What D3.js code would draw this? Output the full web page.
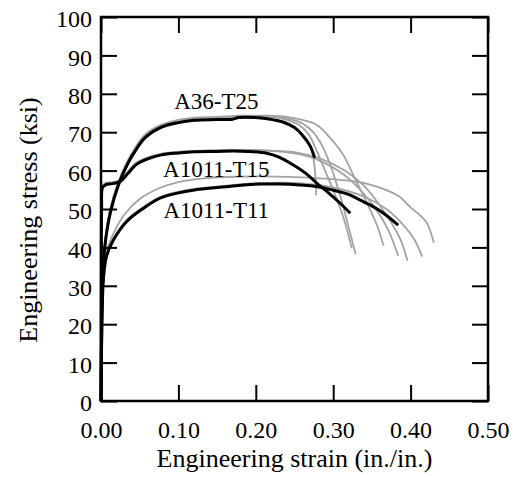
<!DOCTYPE html>
<html>
<head>
<meta charset="utf-8">
<script src="https://cdn.jsdelivr.net/npm/d3@7"></script>
<style>
  html, body { margin: 0; padding: 0; background: #fff; }
  svg { display: block; }
  text { font-family: "Liberation Serif", "Times New Roman", serif; fill: #000; }
</style>
</head>
<body>
<script>
// Tick values
const xTicks = [0, 0.1, 0.2, 0.3, 0.4, 0.5];
const yTicks = [0, 10, 20, 30, 40, 50, 60, 70, 80, 90, 100];

// Curve labels
const labels = [
  { text: "A36-T25", strain: 0.149, stress: 76.0 },
  { text: "A1011-T15", strain: 0.149, stress: 58.3 },
  { text: "A1011-T11", strain: 0.149, stress: 47.7 }
];

// Mean (black) curves: [strain, stress ksi]
const a36Mean = [[0,0],[0.003,35],[0.006,42],[0.012,49],[0.022,56],[0.035,62],[0.047,66],[0.057,68.6],[0.078,71.3],[0.10,72.5],[0.12,73.1],[0.15,73.3],[0.17,73.4],[0.178,73.8],[0.20,73.8],[0.215,73.5],[0.236,72.6],[0.250,71.2],[0.260,69.3],[0.270,66.5],[0.276,63.3]];
const t15Mean = [[0,0],[0.0004,30],[0.0008,50],[0.002,55.6],[0.006,56.3],[0.015,56.6],[0.025,57.2],[0.035,59.3],[0.045,61.5],[0.057,62.8],[0.078,64.1],[0.10,64.6],[0.121,64.9],[0.15,65.0],[0.171,65.1],[0.19,65.0],[0.214,64.5],[0.23,63.5],[0.248,61.5],[0.265,59.2],[0.279,56.7],[0.295,54],[0.309,51.5],[0.322,48.9]];
const t11Mean = [[0,0],[0.001,20],[0.002,27],[0.003,31.5],[0.007,37.6],[0.016,41.9],[0.033,46.7],[0.055,50.2],[0.076,52.8],[0.10,54.2],[0.119,54.9],[0.162,55.8],[0.193,56.4],[0.205,56.5],[0.23,56.5],[0.257,56.25],[0.28,55.8],[0.300,54.9],[0.32,53.8],[0.335,52.3],[0.35,50.8],[0.365,48.9],[0.384,45.8]];

// Individual tests (gray)
const a36Test1 = [[0,0],[0.003,34],[0.006,41.5],[0.012,48.5],[0.022,55.5],[0.035,61.6],[0.057,68.4],[0.078,71.1],[0.10,72.4],[0.12,73.0],[0.15,73.3],[0.18,73.7],[0.21,73.5],[0.235,72.5],[0.252,70.8],[0.264,68.5],[0.272,65.5],[0.276,61],[0.278,53.6]];
const a36Test2 = [[0,0],[0.003,36],[0.006,43],[0.012,50],[0.022,56.8],[0.035,62.6],[0.057,69.2],[0.078,71.8],[0.10,73],[0.12,73.6],[0.15,73.8],[0.18,74.2],[0.21,74.2],[0.235,73.5],[0.255,72],[0.268,69.5],[0.279,65],[0.289,60.2],[0.300,54.9],[0.313,47.9],[0.324,39.8]];
const a36Test3 = [[0,0],[0.003,35],[0.006,42.5],[0.012,49.5],[0.022,56.4],[0.035,62.3],[0.057,69],[0.078,71.6],[0.10,72.8],[0.12,73.4],[0.15,73.7],[0.18,74.0],[0.21,74.1],[0.24,73.6],[0.26,72.3],[0.275,69.8],[0.287,66],[0.298,60.5],[0.309,53.5],[0.319,46],[0.329,38.2]];
const a36Test4 = [[0,0],[0.003,35.5],[0.006,43],[0.012,50],[0.022,56.8],[0.035,62.8],[0.057,69.4],[0.078,72],[0.10,73.2],[0.12,73.8],[0.15,74.0],[0.18,74.3],[0.21,74.3],[0.24,74],[0.26,73.2],[0.279,71.9],[0.296,68.5],[0.313,64.1],[0.33,57.1],[0.345,51],[0.357,45.5],[0.365,40.4]];
const t15Test1 = [[0,0],[0.0004,30],[0.0008,50],[0.002,56],[0.006,56.8],[0.015,57],[0.025,57.6],[0.035,59.8],[0.045,62],[0.057,63.2],[0.078,64.4],[0.10,64.9],[0.13,65.2],[0.17,65.4],[0.21,65.3],[0.25,64.5],[0.28,62.8],[0.31,59.5],[0.335,55],[0.355,50],[0.37,45],[0.384,37.8]];
const t15Test2 = [[0,0],[0.0004,30],[0.0008,50],[0.002,55.8],[0.006,56.5],[0.015,56.8],[0.025,57.4],[0.035,59.6],[0.045,61.8],[0.057,63],[0.078,64.3],[0.10,64.8],[0.13,65.1],[0.17,65.3],[0.21,65.2],[0.25,64.8],[0.285,63],[0.315,60],[0.34,56],[0.36,51],[0.375,46.5],[0.387,42],[0.396,36.5]];
const t11Test1 = [[0,0],[0.001,21],[0.002,28.5],[0.003,33],[0.007,39],[0.016,43.6],[0.03,48.5],[0.05,52.6],[0.075,55.4],[0.10,57.0],[0.13,57.9],[0.17,58.4],[0.21,58.5],[0.25,58.3],[0.29,57.9],[0.322,57.3],[0.345,56.5],[0.364,55.3],[0.385,53.3],[0.399,50.6],[0.412,48.4],[0.421,46.4],[0.430,41.2]];
const t11Test2 = [[0,0],[0.001,20],[0.002,27.5],[0.003,32],[0.007,38],[0.016,42.3],[0.033,47.1],[0.055,50.6],[0.076,53.1],[0.10,54.5],[0.119,55.2],[0.162,56.1],[0.2,56.7],[0.25,56.8],[0.30,55.6],[0.34,53.2],[0.37,49.8],[0.393,45.3],[0.405,42],[0.415,37.6]];

const grayCurves = [a36Test1, a36Test2, a36Test3, a36Test4, t15Test1, t15Test2, t11Test1, t11Test2];
const blackCurves = [a36Mean, t15Mean, t11Mean];

const W = 513, H = 477;
const margin = { left: 101, right: 25, top: 17, bottom: 76 };
const iw = W - margin.left - margin.right;
const ih = H - margin.top - margin.bottom;

const svg = d3.select("body").append("svg").attr("width", W).attr("height", H);
const g = svg.append("g").attr("transform", `translate(${margin.left},${margin.top})`);

const x = d3.scaleLinear().domain([0, 0.5]).range([0, iw]);
const y = d3.scaleLinear().domain([0, 100]).range([ih, 0]);

const line = d3.line()
  .x(d => x(d[0]))
  .y(d => y(d[1]))
  .curve(d3.curveCatmullRom.alpha(0.5));

// Test curves
g.selectAll("path.test").data(grayCurves).join("path")
  .attr("class", "test")
  .attr("d", line)
  .attr("fill", "none")
  .attr("stroke", "#a3a3a3")
  .attr("stroke-width", 1.8);

// Mean curves
g.selectAll("path.mean").data(blackCurves).join("path")
  .attr("class", "mean")
  .attr("d", line)
  .attr("fill", "none")
  .attr("stroke", "#000")
  .attr("stroke-width", 3);

// Inward ticks on all four sides
const tickLen = 16;
const bottomAxis = d3.axisBottom(x).tickValues(xTicks).tickSize(-tickLen).tickFormat(d3.format(".2f")).tickPadding(20);
const topAxis = d3.axisTop(x).tickValues(xTicks).tickSize(-tickLen).tickFormat("");
const leftAxis = d3.axisLeft(y).tickValues(yTicks).tickSize(-tickLen).tickFormat(d3.format("d")).tickPadding(9);
const rightAxis = d3.axisRight(y).tickValues(yTicks).tickSize(-tickLen).tickFormat("");

function styleAxis(sel) {
  sel.select(".domain").remove();
  sel.selectAll(".tick line").attr("stroke", "#000").attr("stroke-width", 2);
  sel.selectAll(".tick text").style("font-size", "24px").attr("fill", "#000");
}

g.append("g").attr("transform", `translate(0,${ih})`).call(bottomAxis).call(styleAxis)
  .selectAll(".tick text").attr("dy", "0.71em");
g.append("g").call(topAxis).call(styleAxis);
g.append("g").call(leftAxis).call(styleAxis)
  .selectAll(".tick text").attr("dy", "0.4em");
g.append("g").attr("transform", `translate(${iw},0)`).call(rightAxis).call(styleAxis);

// Frame
g.append("rect")
  .attr("x", 0).attr("y", 0).attr("width", iw).attr("height", ih)
  .attr("fill", "none").attr("stroke", "#000").attr("stroke-width", 2.5);

// Curve labels
g.selectAll("text.lbl").data(labels).join("text")
  .attr("class", "lbl")
  .attr("x", d => x(d.strain))
  .attr("y", d => y(d.stress))
  .attr("text-anchor", "middle")
  .style("font-size", "23px")
  .text(d => d.text);

// Axis titles
svg.append("text")
  .attr("x", margin.left + iw / 2)
  .attr("y", 467)
  .attr("text-anchor", "middle")
  .style("font-size", "26px")
  .text("Engineering strain (in./in.)");

svg.append("text")
  .attr("transform", "translate(37,220) rotate(-90)")
  .attr("text-anchor", "middle")
  .style("font-size", "26px")
  .text("Engineering stress (ksi)");
</script>
</body>
</html>
